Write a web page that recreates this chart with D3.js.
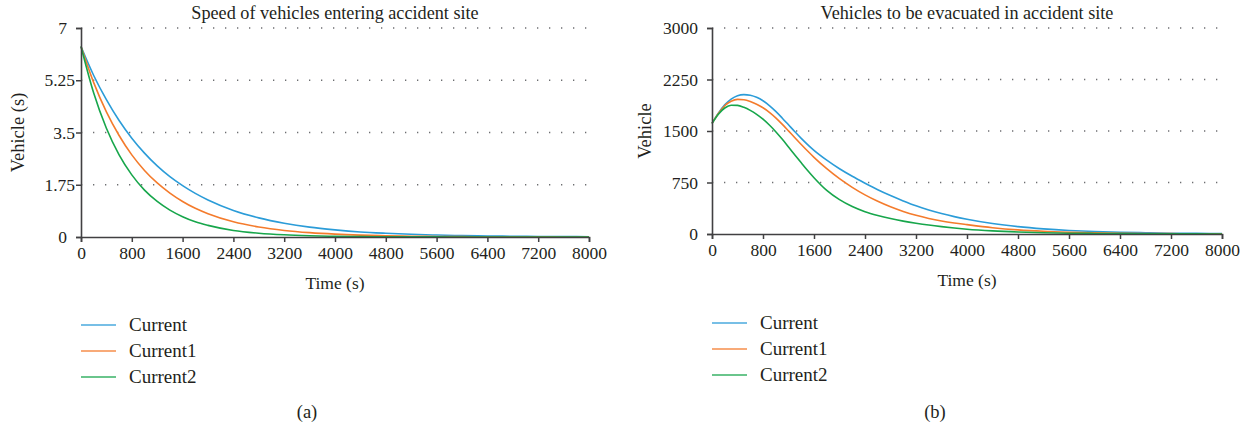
<!DOCTYPE html>
<html>
<head>
<meta charset="utf-8">
<script src="https://cdn.jsdelivr.net/npm/d3@7/dist/d3.min.js"></script>
<style>
  html, body { margin: 0; padding: 0; background: #fff; }
  svg { display: block; }
  text { font-family: "Liberation Serif", "DejaVu Serif", serif; fill: #231f20; }
</style>
</head>
<body>
<svg id="chart" width="1248" height="428"></svg>
<script>
// ---- Series names ----
const seriesNames = ["Current", "Current1", "Current2"];

// ---- (a) Speed of vehicles entering accident site ----
const speedTime = [0, 200, 400, 600, 800, 1000, 1200, 1400, 1600, 1800, 2000,
  2400, 2800, 3200, 3600, 4000, 4400, 4800, 5200, 5600, 6000, 6400, 6800, 7200, 7600, 8000];
const speedCurrent = [6.38, 5.41, 4.60, 3.90, 3.31, 2.81, 2.38, 2.02, 1.72, 1.46, 1.24,
  0.89, 0.64, 0.46, 0.33, 0.24, 0.17, 0.125, 0.09, 0.065, 0.047, 0.034, 0.024, 0.017, 0.013, 0.009];
const speedCurrent1 = [6.38, 5.17, 4.19, 3.40, 2.75, 2.23, 1.81, 1.47, 1.19, 0.96, 0.78,
  0.51, 0.335, 0.22, 0.145, 0.095, 0.062, 0.041, 0.027, 0.018, 0.012, 0.008, 0.005, 0.0034, 0.0022, 0.0015];
const speedCurrent2 = [6.38, 4.82, 3.64, 2.75, 2.08, 1.57, 1.19, 0.90, 0.68, 0.51, 0.39,
  0.22, 0.127, 0.073, 0.042, 0.024, 0.014, 0.008, 0.0045, 0.0026, 0.0015, 0.0009, 0.0005, 0.0003, 0.0002, 0.0001];
const speedYTicks = [0, 1.75, 3.5, 5.25, 7];

// ---- (b) Vehicles to be evacuated in accident site ----
const evacTime = [0, 100, 200, 300, 400, 500, 600, 700, 800, 900, 1000, 1100, 1200, 1300, 1400, 1500, 1600,
  1800, 2000, 2200, 2400, 2600, 2800, 3000, 3200, 3400, 3600, 3800, 4000,
  4400, 4800, 5200, 5600, 6000, 6400, 6800, 7200, 7600, 8000];
const evacCurrent = [1610, 1760, 1880, 1965, 2015, 2030, 2020, 1990, 1940, 1870, 1785, 1690, 1590, 1490, 1393, 1302, 1218,
  1075, 950, 840, 740, 645, 560, 482, 410, 350, 298, 253, 215,
  152, 107, 75, 52, 36, 25, 18, 12, 9, 6];
const evacCurrent1 = [1610, 1755, 1868, 1932, 1960, 1955, 1930, 1890, 1838, 1772, 1692, 1600, 1502, 1402, 1304, 1208, 1117,
  952, 806, 680, 570, 476, 396, 328, 272, 226, 189, 160, 136,
  92, 60, 39, 26, 17, 11, 7, 5, 3, 2];
const evacCurrent2 = [1610, 1745, 1835, 1875, 1873, 1845, 1800, 1742, 1672, 1587, 1490, 1382, 1268, 1152, 1037, 925, 820,
  635, 500, 400, 325, 270, 225, 188, 157, 130, 107, 87, 70,
  46, 30, 19, 12, 8, 5, 3.5, 2.3, 1.5, 1];
const evacYTicks = [0, 750, 1500, 2250, 3000];

const xTicks = [0, 800, 1600, 2400, 3200, 4000, 4800, 5600, 6400, 7200, 8000];
const colors = ["#2b9cd8", "#f47b2c", "#17a64b"];

const svg = d3.select("#chart");
svg.append("rect").attr("width", 1248).attr("height", 428).attr("fill", "#fff");

function panel(cfg) {
  const g = svg.append("g");
  const x = d3.scaleLinear().domain([0, 8000]).range([cfg.left, cfg.right]);
  const y = d3.scaleLinear().domain([0, cfg.yMax]).range([cfg.bottom, cfg.top]);

  // dotted horizontal gridlines
  g.append("g").selectAll("line")
    .data(cfg.yTicks.filter(d => d > 0))
    .join("line")
    .attr("x1", cfg.left).attr("x2", cfg.right)
    .attr("y1", d => y(d)).attr("y2", d => y(d))
    .attr("stroke", "#6d6e71").attr("stroke-width", 1.3)
    .attr("stroke-dasharray", "1.3 10.7");

  // curves
  const line = d3.line()
    .x(d => x(d[0])).y(d => y(d[1]))
    .curve(d3.curveMonotoneX);
  cfg.series.forEach((vals, i) => {
    g.append("path")
      .datum(cfg.time.map((t, k) => [t, vals[k]]))
      .attr("fill", "none")
      .attr("stroke", colors[i])
      .attr("stroke-width", 1.6)
      .attr("d", line);
  });

  // axes
  const xAxis = g.append("g")
    .attr("transform", `translate(0,${cfg.bottom})`)
    .call(d3.axisBottom(x).tickValues(xTicks).tickSize(5).tickPadding(5).tickFormat(d3.format("d")));
  const yAxis = g.append("g")
    .attr("transform", `translate(${cfg.left},0)`)
    .call(d3.axisLeft(y).tickValues(cfg.yTicks).tickSize(5).tickPadding(9).tickFormat(d => String(d)));
  [xAxis, yAxis].forEach(a => {
    a.select(".domain").attr("stroke", "#414042").attr("stroke-width", 1.6);
    a.selectAll(".tick line").attr("stroke", "#414042").attr("stroke-width", 1.5);
    a.selectAll(".tick text")
      .attr("fill", "#231f20")
      .style("font-family", '"Liberation Serif", serif')
      .style("font-size", "17.5px");
  });
  yAxis.selectAll(".tick text").attr("dx", d => Number.isInteger(d) ? 0 : cfg.decShift);

  const cx = (cfg.left + cfg.right) / 2;
  g.append("text")
    .attr("x", cx).attr("y", 19)
    .attr("text-anchor", "middle")
    .style("font-size", "18.2px")
    .text(cfg.title);
  g.append("text")
    .attr("x", cx).attr("y", cfg.bottom + 52)
    .attr("text-anchor", "middle")
    .style("font-size", "17.5px")
    .text("Time (s)");
  g.append("text")
    .attr("transform", `translate(${cfg.yLabelX},${(cfg.top + cfg.bottom) / 2}) rotate(-90)`)
    .attr("text-anchor", "middle")
    .style("font-size", "18.5px")
    .text(cfg.yLabel);

  // legend
  const lg = g.append("g");
  seriesNames.forEach((name, i) => {
    const ly = cfg.legendTop + i * 26;
    lg.append("line")
      .attr("x1", cfg.left).attr("x2", cfg.left + 35)
      .attr("y1", ly).attr("y2", ly)
      .attr("stroke", colors[i]).attr("stroke-width", 1.6).attr("opacity", 0.85);
    lg.append("text")
      .attr("x", cfg.left + 48).attr("y", ly + 6)
      .style("font-size", "19px")
      .text(name);
  });

  g.append("text")
    .attr("x", cfg.capX).attr("y", 418)
    .attr("text-anchor", "middle")
    .style("font-size", "18.5px")
    .text(cfg.caption);
}

panel({
  left: 81, right: 589, top: 28, bottom: 237,
  yMax: 7, yTicks: speedYTicks, decShift: 8,
  time: speedTime, series: [speedCurrent, speedCurrent1, speedCurrent2],
  title: "Speed of vehicles entering accident site",
  yLabel: "Vehicle (s)", yLabelX: 24,
  legendTop: 325, caption: "(a)", capX: 307
});

panel({
  left: 712, right: 1222, top: 28, bottom: 234,
  yMax: 3000, yTicks: evacYTicks, decShift: 0,
  time: evacTime, series: [evacCurrent, evacCurrent1, evacCurrent2],
  title: "Vehicles to be evacuated in accident site",
  yLabel: "Vehicle", yLabelX: 651,
  legendTop: 323, caption: "(b)", capX: 935
});
</script>
</body>
</html>
